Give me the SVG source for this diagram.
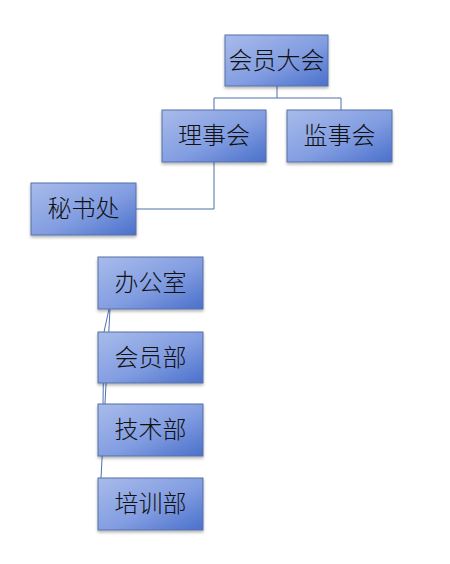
<svg xmlns="http://www.w3.org/2000/svg" width="450" height="564" viewBox="0 0 450 564">
<style>
.box{fill:url(#g);stroke:#5670a8;stroke-width:1;filter:url(#sh)}
.t{font-family:"Liberation Serif","Noto Sans CJK SC",serif;font-size:24px;font-weight:300;fill:#111;text-anchor:middle;dominant-baseline:central}
.c{fill:none;stroke:#4f6fae;stroke-width:1}
</style>
<defs>
<linearGradient id="g" x1="0" y1="0" x2="1" y2="1">
<stop offset="0" stop-color="#a8bbea"/>
<stop offset="0.55" stop-color="#829de1"/>
<stop offset="1" stop-color="#4a70cb"/>
</linearGradient>
<filter id="sh" x="-10%" y="-10%" width="120%" height="130%">
<feGaussianBlur in="SourceAlpha" stdDeviation="1.5"/>
<feOffset dx="0" dy="2" result="b"/>
<feComponentTransfer><feFuncA type="linear" slope="0.3"/></feComponentTransfer>
<feMerge><feMergeNode/><feMergeNode in="SourceGraphic"/></feMerge>
</filter>
</defs>
<g id="connectors">
<path class="c" d="M277 86 V98 M214 98 H341 M214 98 V110 M341 98 V110"/>
<path class="c" d="M214 162 V209 H136"/>
<path class="c" d="M110 309 L101 478"/>
<path class="c" d="M109 309 L104 332 L103 404"/>
</g>
<g id="n-dahui"><rect class="box" x="225" y="35" width="103" height="51"/><text class="t" x="276.5" y="60.5">会员大会</text></g>
<g id="n-lishi"><rect class="box" x="162" y="110" width="104" height="52"/><text class="t" x="214" y="136">理事会</text></g>
<g id="n-jianshi"><rect class="box" x="287" y="110" width="105" height="52"/><text class="t" x="339.5" y="136">监事会</text></g>
<g id="n-mishu"><rect class="box" x="31" y="183" width="105" height="52"/><text class="t" x="83.5" y="209">秘书处</text></g>
<g id="n-bangong"><rect class="box" x="98" y="257" width="105" height="52"/><text class="t" x="150.5" y="283">办公室</text></g>
<g id="n-huiyuan"><rect class="box" x="98" y="332" width="105" height="51"/><text class="t" x="150.5" y="357.5">会员部</text></g>
<g id="n-jishu"><rect class="box" x="98" y="404" width="105" height="52"/><text class="t" x="150.5" y="430">技术部</text></g>
<g id="n-peixun"><rect class="box" x="98" y="478" width="105" height="52"/><text class="t" x="150.5" y="504">培训部</text></g>
</svg>
